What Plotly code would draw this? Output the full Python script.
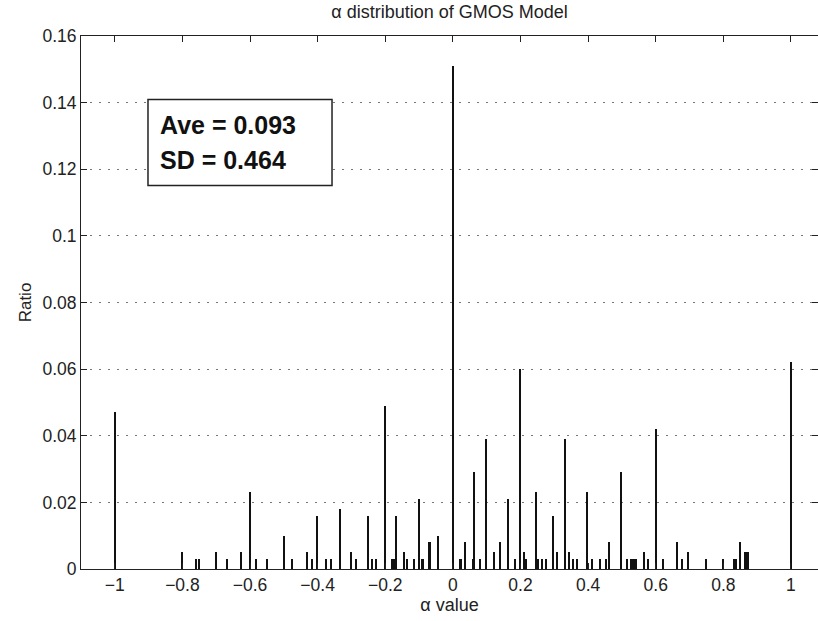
import plotly.graph_objects as go

alpha_values = [
    -1.0, -0.8, -0.76, -0.75, -0.7, -0.667, -0.625, -0.6, -0.583, -0.55,
    -0.5, -0.474, -0.43, -0.417, -0.4, -0.375, -0.36, -0.333, -0.3, -0.287,
    -0.25, -0.24, -0.228, -0.2, -0.178, -0.173, -0.167, -0.143, -0.136, -0.113,
    -0.1, -0.092, -0.087, -0.071, -0.067, -0.042, 0.0, 0.022, 0.026, 0.037,
    0.059, 0.0625, 0.08, 0.1, 0.121, 0.14, 0.164, 0.184, 0.2, 0.21,
    0.216, 0.246, 0.252, 0.263, 0.276, 0.296, 0.308, 0.333, 0.345, 0.355,
    0.368, 0.396, 0.413, 0.435, 0.455, 0.462, 0.497, 0.515, 0.528, 0.533,
    0.538, 0.543, 0.566, 0.578, 0.6, 0.621, 0.665, 0.677, 0.697, 0.748,
    0.8, 0.832, 0.837, 0.849, 0.864, 0.868, 0.874, 1.0,
]
ratios = [
    0.047, 0.005, 0.003, 0.003, 0.005, 0.003, 0.005, 0.023, 0.003, 0.003,
    0.010, 0.003, 0.005, 0.003, 0.016, 0.003, 0.003, 0.018, 0.005, 0.003,
    0.016, 0.003, 0.003, 0.049, 0.003, 0.003, 0.016, 0.005, 0.003, 0.003,
    0.021, 0.003, 0.003, 0.008, 0.008, 0.010, 0.151, 0.003, 0.003, 0.008,
    0.003, 0.029, 0.003, 0.039, 0.005, 0.008, 0.021, 0.003, 0.060, 0.005,
    0.003, 0.023, 0.003, 0.003, 0.003, 0.016, 0.005, 0.039, 0.005, 0.003,
    0.003, 0.023, 0.003, 0.003, 0.003, 0.008, 0.029, 0.003, 0.003, 0.003,
    0.003, 0.003, 0.005, 0.003, 0.042, 0.003, 0.008, 0.003, 0.005, 0.003,
    0.003, 0.003, 0.003, 0.008, 0.005, 0.005, 0.005, 0.062,
]

x_ticks = [-1, -0.8, -0.6, -0.4, -0.2, 0, 0.2, 0.4, 0.6, 0.8, 1]
x_tick_labels = ["\u22121", "\u22120.8", "\u22120.6", "\u22120.4", "\u22120.2", "0", "0.2", "0.4", "0.6", "0.8", "1"]
y_ticks = [0, 0.02, 0.04, 0.06, 0.08, 0.1, 0.12, 0.14, 0.16]
y_tick_labels = ["0", "0.02", "0.04", "0.06", "0.08", "0.1", "0.12", "0.14", "0.16"]

title_text = "\u03b1 distribution of GMOS Model"
x_title = "\u03b1 value"
y_title = "Ratio"
stats_lines = ["Ave = 0.093", "SD = 0.464"]

FONT = "Liberation Sans, Arial, Helvetica, sans-serif"
INK = "#222222"

fig = go.Figure()
fig.add_trace(go.Bar(
    x=alpha_values, y=ratios, width=0.0042,
    marker=dict(color="#111111", line=dict(width=0)),
    showlegend=False,
))

fig.update_layout(
    width=818, height=621,
    margin=dict(l=81, r=0, t=36, b=52),
    paper_bgcolor="white", plot_bgcolor="white",
    font=dict(family=FONT, color=INK, size=17),
    title=dict(text=title_text, x=0.5, xref="paper", xanchor="center",
               y=0.981, yref="container", yanchor="middle",
               font=dict(size=18, color=INK)),
    bargap=0,
)

fig.update_xaxes(
    range=[-1.1, 1.08], tickvals=x_ticks, ticktext=x_tick_labels,
    ticks="inside", ticklen=6, tickcolor=INK, tickwidth=1,
    showline=True, linecolor=INK, linewidth=1, mirror="ticks",
    showgrid=False, zeroline=False,
    tickfont=dict(size=17.5, color=INK),
    title=dict(text=x_title, font=dict(size=18, color=INK), standoff=4),
)
fig.update_yaxes(
    range=[0, 0.16], tickvals=y_ticks, ticktext=y_tick_labels,
    ticks="inside", ticklen=6, tickcolor=INK, tickwidth=1,
    showline=True, linecolor=INK, linewidth=1, mirror="ticks",
    showgrid=True, gridcolor="#777777", gridwidth=1, griddash="2px,7px",
    zeroline=False,
    tickfont=dict(size=17.5, color=INK),
    title=dict(text=y_title, font=dict(size=17, color=INK), standoff=6),
)

# statistics box
fig.add_shape(type="rect", xref="paper", yref="paper",
              x0=0.0909, x1=0.3406, y0=0.7195, y1=0.881,
              line=dict(color=INK, width=1.5), fillcolor="white", layer="above")
fig.add_annotation(text="<b>%s</b>" % stats_lines[0], xref="paper", yref="paper",
                   x=0.105, y=0.833, xanchor="left", yanchor="middle", showarrow=False,
                   font=dict(size=25, color="#111111"))
fig.add_annotation(text="<b>%s</b>" % stats_lines[1], xref="paper", yref="paper",
                   x=0.105, y=0.768, xanchor="left", yanchor="middle", showarrow=False,
                   font=dict(size=25, color="#111111"))

fig.write_html("out.html")
